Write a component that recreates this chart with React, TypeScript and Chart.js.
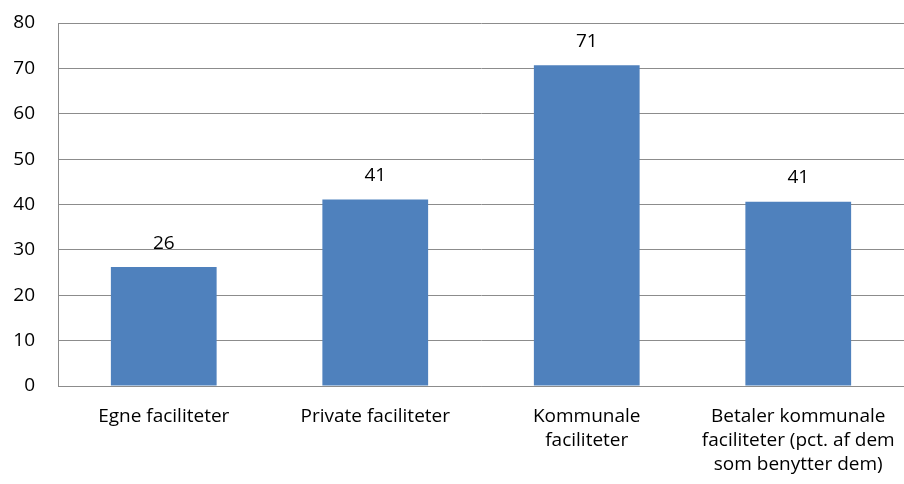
import React, { useEffect, useRef } from "react";
import { Chart, registerables } from "chart.js";

Chart.register(...registerables);

const categories: string[][] = [
  ["Egne faciliteter"],
  ["Private faciliteter"],
  ["Kommunale", "faciliteter"],
  ["Betaler kommunale", "faciliteter (pct. af dem", "som benytter dem)"],
];
const values: number[] = [26.2, 41.1, 70.7, 40.6];
const yMin = 0;
const yMax = 80;
const yStep = 10;

const FONT = "'Open Sans', 'Noto Sans', sans-serif";
const FS = 19;
const GRID = "#8c8c8c";
const BAR = "#4F81BD";

const valueLabels = {
  id: "valueLabels",
  afterDatasetsDraw(chart: any) {
    const ctx = chart.ctx;
    const meta = chart.getDatasetMeta(0);
    ctx.save();
    ctx.font = `${FS}px ${FONT}`;
    ctx.fillStyle = "#000";
    ctx.textAlign = "center";
    ctx.textBaseline = "middle";
    meta.data.forEach((bar: any, i: number) => {
      const v = chart.data.datasets[0].data[i] as number;
      ctx.fillText(String(Math.round(v)), bar.x, bar.y - 24);
    });
    ctx.restore();
  },
};

export default function App() {
  const ref = useRef<HTMLCanvasElement | null>(null);
  useEffect(() => {
    if (!ref.current) return;
    const chart = new Chart(ref.current, {
      type: "bar",
      data: {
        labels: categories,
        datasets: [
          {
            data: values,
            backgroundColor: BAR,
            barPercentage: 0.5,
            categoryPercentage: 1,
          },
        ],
      },
      options: {
        animation: false,
        responsive: false,
        maintainAspectRatio: false,
        layout: { padding: { top: 23, right: 0, left: 0, bottom: 0 } },
        plugins: { legend: { display: false }, tooltip: { enabled: false } },
        scales: {
          x: {
            grid: { display: false, drawTicks: false },
            border: { display: true, color: GRID, width: 1 },
            ticks: {
              color: "#000",
              padding: 19,
              maxRotation: 0,
              autoSkip: false,
              font: { family: FONT, size: FS, lineHeight: 24 / FS },
            },
            afterFit: (s: any) => {
              s.height = 98;
              s.paddingLeft = 0;
              s.paddingRight = 0;
            },
          },
          y: {
            min: yMin,
            max: yMax,
            grid: { color: GRID, drawTicks: false, lineWidth: 1 },
            border: { display: true, color: GRID, width: 1 },
            ticks: {
              stepSize: yStep,
              color: "#000",
              padding: 23,
              font: { family: FONT, size: FS },
            },
            afterFit: (s: any) => {
              s.width = 58;
              s.paddingTop = 0;
              s.paddingBottom = 0;
            },
          },
        },
      },
      plugins: [valueLabels],
    });
    return () => chart.destroy();
  }, []);
  return (
    <div style={{ position: "absolute", left: 0, top: 0, width: 904, height: 484, background: "#fff" }}>
      <canvas ref={ref} width={904} height={484} style={{ width: 904, height: 484 }} />
    </div>
  );
}
